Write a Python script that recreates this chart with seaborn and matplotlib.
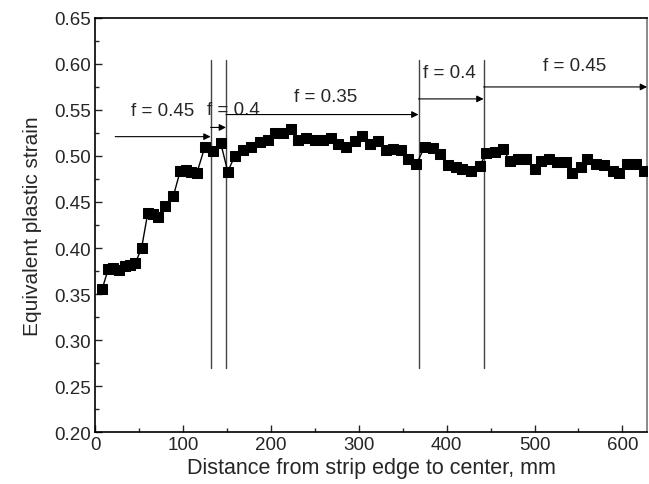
import matplotlib
matplotlib.use("Agg")
import matplotlib.pyplot as plt
import seaborn as sns
import pandas as pd
from matplotlib.ticker import MultipleLocator

distance = [8, 15, 21, 27, 34, 40, 46, 53, 60, 66,
            72, 80, 89, 97, 103, 109, 116, 125, 134, 143,
            151, 159, 168, 178, 187.5, 197, 204.5, 214, 223, 231,
            240.5, 250, 259, 269, 276, 286, 295.5, 304, 312.5, 321.5,
            330.7, 339, 348.5, 356, 365.5, 375, 384, 392, 401, 411,
            418, 428, 437.5, 445, 454.5, 464, 471.6, 481, 490.5, 500,
            507.6, 517, 526, 536, 543, 553, 560, 570, 579.5, 589,
            596.6, 605.7, 615.5, 625]
strain = [0.355, 0.377, 0.378, 0.376, 0.380, 0.382, 0.384, 0.400, 0.438, 0.437,
          0.434, 0.446, 0.456, 0.484, 0.485, 0.483, 0.482, 0.510, 0.505, 0.514,
          0.483, 0.500, 0.506, 0.510, 0.515, 0.517, 0.525, 0.525, 0.529, 0.517,
          0.520, 0.517, 0.517, 0.519, 0.513, 0.510, 0.516, 0.522, 0.513, 0.516,
          0.506, 0.508, 0.507, 0.497, 0.491, 0.510, 0.509, 0.502, 0.490, 0.488,
          0.486, 0.484, 0.489, 0.503, 0.504, 0.508, 0.495, 0.497, 0.497, 0.486,
          0.495, 0.497, 0.493, 0.493, 0.482, 0.488, 0.497, 0.491, 0.490, 0.484,
          0.482, 0.491, 0.491, 0.484]

# zone boundaries (vertical lines)
boundaries = [131.5, 149, 368, 442]
boundary_ymin = 0.27
boundary_ymax = 0.604

# zone annotations
zone_labels = ["f = 0.45", "f = 0.4", "f = 0.35", "f = 0.4", "f = 0.45"]
label_x = [77, 157, 262, 403, 546]
label_y = [0.549, 0.551, 0.565, 0.591, 0.598]
arrow_start = [23, 131.5, 149, 368, 442]
arrow_end = [131.5, 149, 368, 442, 628]
arrow_y = [0.521, 0.531, 0.545, 0.562, 0.575]

sns.set_style("ticks")
plt.rcParams['font.family'] = ['Liberation Sans', 'DejaVu Sans']
plt.rcParams['xtick.direction'] = 'in'
plt.rcParams['ytick.direction'] = 'in'

df = pd.DataFrame({"distance": distance, "strain": strain})

fig = plt.figure(figsize=(6.49, 4.85), dpi=100)
ax = fig.add_axes([0.1464, 0.107, 0.8506, 0.854])

sns.lineplot(data=df, x="distance", y="strain", ax=ax, color="black", lw=1,
             marker="s", markersize=7, markeredgecolor="black", zorder=3)
sns.scatterplot(data=df, x="distance", y="strain", ax=ax, color="black",
                marker="^", s=45, edgecolor="black", zorder=4)

for b in boundaries:
    ax.plot([b, b], [boundary_ymin, boundary_ymax], color="#444444", lw=1, zorder=2)

for lab, tx, ty, a0, a1, ay in zip(zone_labels, label_x, label_y, arrow_start, arrow_end, arrow_y):
    ax.annotate("", xy=(a1, ay), xytext=(a0, ay),
                arrowprops=dict(arrowstyle="-|>", color="black", lw=0.8,
                                shrinkA=0, shrinkB=0, mutation_scale=10))
    ax.text(tx, ty, lab, ha="center", va="center", fontsize=13.5)

ax.set_xlim(0, 628)
ax.set_ylim(0.20, 0.65)
ax.xaxis.set_major_locator(MultipleLocator(100))
ax.xaxis.set_minor_locator(MultipleLocator(50))
ax.yaxis.set_major_locator(MultipleLocator(0.05))
ax.yaxis.set_minor_locator(MultipleLocator(0.025))
ax.yaxis.set_major_formatter(matplotlib.ticker.FormatStrFormatter('%.2f'))
ax.tick_params(which="major", length=5, width=1, labelsize=13.5, top=False, right=False, pad=3)
ax.tick_params(which="minor", length=3, width=1, top=False, right=False)
for s in ax.spines.values():
    s.set_color("black")
    s.set_linewidth(1.2)
ax.spines["right"].set_color("#777777")

ax.set_xlabel("Distance from strip edge to center, mm", fontsize=15.5, labelpad=3)
ax.set_ylabel("Equivalent plastic strain", fontsize=15, labelpad=9)

fig.savefig("out.png", dpi=100)
